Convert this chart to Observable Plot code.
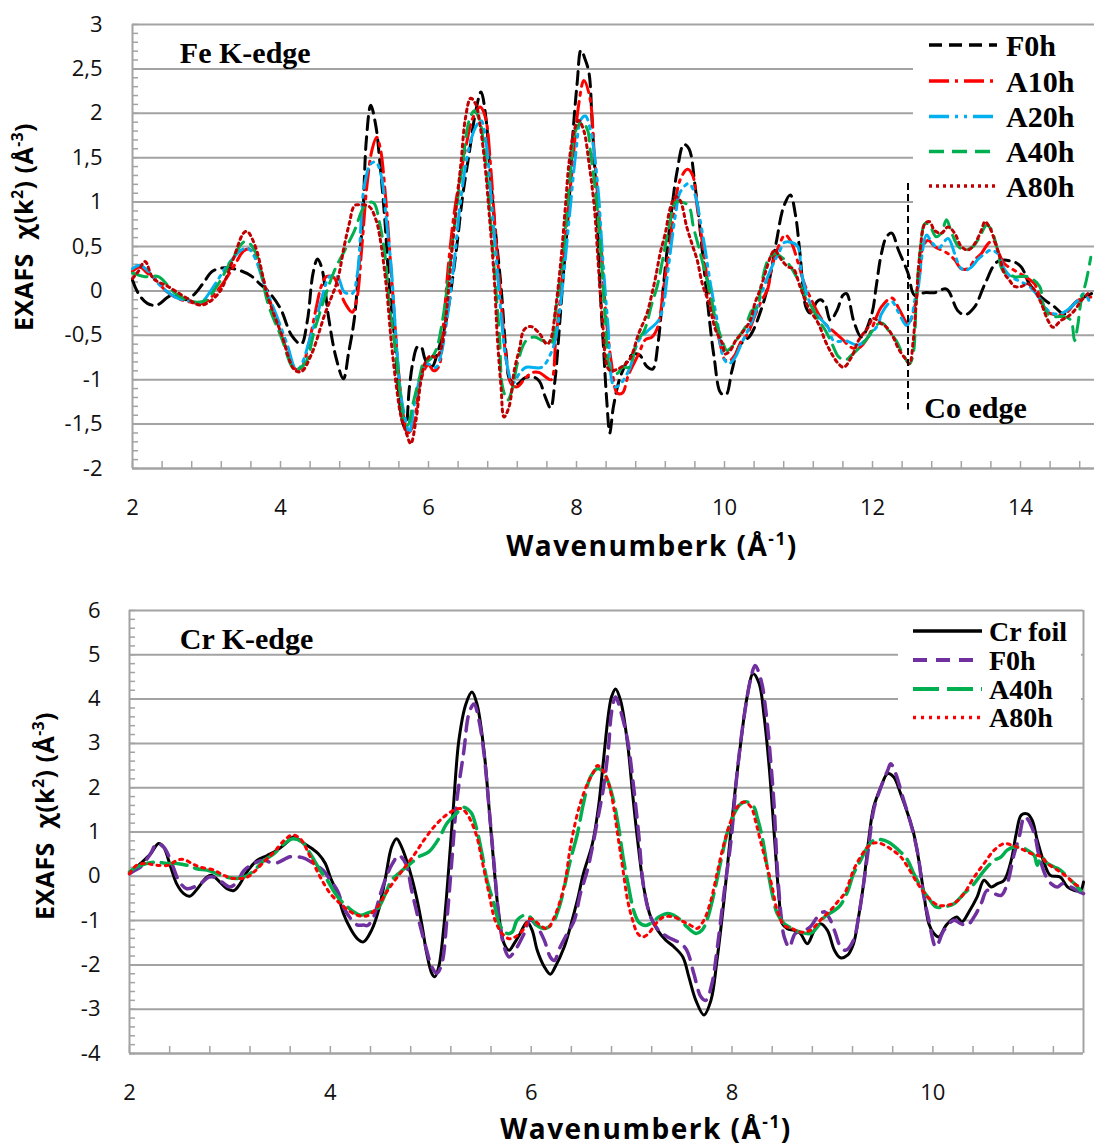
<!DOCTYPE html>
<html><head><meta charset="utf-8">
<script src="https://cdn.jsdelivr.net/npm/d3@7"></script>
<script src="https://cdn.jsdelivr.net/npm/@observablehq/plot@0.6"></script>
<style>
html,body{margin:0;padding:0;background:#fff;}
#wrap{position:relative;width:1094px;height:1146px;overflow:hidden;background:#fff;}
.panel{position:absolute;left:0;}
.title{position:absolute;font-family:"Open Sans",sans-serif;font-weight:700;color:#000;white-space:nowrap;line-height:1;}
.title sup{font-size:62%;vertical-align:0.62em;line-height:0;}
.legend{position:absolute;}
</style></head>
<body><div id="wrap"></div>
<script>
// ---------------- Fe K-edge data: [k, chi] ----------------
const fe_F0h = [[2.0,0.12],[2.08,-0.03],[2.2,-0.14],[2.33,-0.16],[2.5,-0.06],[2.62,-0.06],[2.72,-0.1],[2.82,-0.05],[2.95,0.08],[3.08,0.22],[3.25,0.26],[3.45,0.23],[3.6,0.17],[3.72,0.08],[3.85,-0.02],[4.0,-0.2],[4.15,-0.5],[4.28,-0.6],[4.36,-0.35],[4.44,0.2],[4.5,0.36],[4.56,0.25],[4.65,-0.3],[4.75,-0.75],[4.85,-0.99],[4.92,-0.7],[5.0,-0.3],[5.06,0.3],[5.11,0.8],[5.16,1.7],[5.22,2.09],[5.29,1.85],[5.34,1.47],[5.41,0.8],[5.47,0.05],[5.54,-0.52],[5.59,-1.08],[5.65,-1.48],[5.69,-1.55],[5.74,-1.1],[5.79,-0.8],[5.85,-0.63],[5.9,-0.63],[5.96,-0.78],[6.05,-0.85],[6.12,-0.7],[6.17,-0.56],[6.24,-0.33],[6.37,0.42],[6.46,1.06],[6.55,1.55],[6.64,2.03],[6.71,2.24],[6.78,1.92],[6.82,1.47],[6.89,0.8],[6.98,0.05],[7.05,-0.71],[7.1,-1.0],[7.2,-1.05],[7.3,-0.98],[7.42,-0.97],[7.5,-1.02],[7.58,-1.2],[7.65,-1.32],[7.71,-1.0],[7.77,-0.4],[7.81,0.05],[7.9,1.0],[7.95,1.75],[8.01,2.35],[8.06,2.71],[8.12,2.6],[8.17,2.45],[8.21,1.92],[8.26,1.17],[8.3,0.42],[8.33,-0.14],[8.37,-0.71],[8.41,-1.25],[8.45,-1.6],[8.5,-1.3],[8.6,-0.95],[8.75,-0.72],[8.85,-0.72],[8.95,-0.85],[9.03,-0.88],[9.1,-0.6],[9.18,0.1],[9.27,0.8],[9.36,1.35],[9.45,1.65],[9.52,1.6],[9.6,1.2],[9.7,0.45],[9.78,-0.2],[9.86,-0.75],[9.95,-1.15],[10.02,-1.17],[10.1,-0.9],[10.2,-0.62],[10.35,-0.5],[10.5,-0.2],[10.6,0.1],[10.7,0.55],[10.8,0.95],[10.89,1.08],[10.96,0.85],[11.02,0.42],[11.1,-0.18],[11.16,-0.25],[11.25,-0.12],[11.3,-0.1],[11.36,-0.15],[11.43,-0.33],[11.52,-0.22],[11.6,-0.05],[11.65,-0.03],[11.75,-0.35],[11.85,-0.52],[11.99,-0.26],[12.05,0.05],[12.12,0.42],[12.19,0.61],[12.26,0.65],[12.35,0.46],[12.48,0.2],[12.57,-0.05],[12.7,-0.02],[12.84,-0.02],[13.0,0.02],[13.15,-0.22],[13.25,-0.27],[13.38,-0.18],[13.52,0.08],[13.69,0.33],[13.9,0.33],[14.01,0.27],[14.12,0.08],[14.28,-0.07],[14.46,-0.18],[14.59,-0.26],[14.73,-0.14],[14.86,-0.07],[14.96,-0.03]];
const fe_A10h = [[2.0,0.22],[2.1,0.27],[2.2,0.2],[2.3,0.14],[2.45,0.0],[2.6,-0.08],[2.8,-0.13],[2.95,-0.14],[3.1,-0.04],[3.25,0.12],[3.4,0.32],[3.5,0.45],[3.58,0.47],[3.68,0.35],[3.8,0.04],[3.95,-0.35],[4.1,-0.7],[4.2,-0.88],[4.28,-0.87],[4.38,-0.6],[4.48,-0.2],[4.55,0.05],[4.62,0.16],[4.72,0.15],[4.8,0.0],[4.88,-0.15],[4.97,-0.24],[5.03,-0.1],[5.1,0.5],[5.17,1.2],[5.24,1.6],[5.3,1.73],[5.35,1.6],[5.42,1.06],[5.48,0.4],[5.54,-0.3],[5.6,-0.95],[5.67,-1.45],[5.72,-1.6],[5.8,-1.5],[5.87,-1.1],[5.95,-0.88],[6.0,-0.83],[6.07,-0.9],[6.14,-0.85],[6.2,-0.4],[6.27,0.3],[6.36,0.95],[6.5,1.6],[6.6,1.95],[6.7,2.07],[6.77,1.95],[6.84,1.4],[6.9,0.7],[6.98,-0.1],[7.04,-0.7],[7.12,-1.05],[7.2,-1.08],[7.3,-0.99],[7.4,-0.92],[7.5,-0.92],[7.6,-0.98],[7.66,-1.0],[7.72,-0.55],[7.79,0.0],[7.85,0.6],[7.94,1.36],[8.03,2.1],[8.1,2.37],[8.18,2.18],[8.24,1.55],[8.3,0.9],[8.35,0.3],[8.4,-0.3],[8.47,-0.8],[8.55,-1.15],[8.62,-1.15],[8.7,-0.95],[8.84,-0.71],[8.93,-0.55],[9.02,-0.52],[9.1,-0.4],[9.18,0.05],[9.25,0.45],[9.32,0.9],[9.4,1.25],[9.5,1.37],[9.57,1.3],[9.63,0.95],[9.7,0.55],[9.8,-0.05],[9.88,-0.35],[9.95,-0.63],[10.01,-0.78],[10.08,-0.78],[10.15,-0.71],[10.23,-0.56],[10.3,-0.5],[10.42,-0.26],[10.5,-0.11],[10.58,0.01],[10.64,0.27],[10.73,0.5],[10.82,0.63],[10.9,0.55],[11.0,0.3],[11.08,0.08],[11.18,-0.11],[11.27,-0.26],[11.36,-0.37],[11.45,-0.44],[11.6,-0.55],[11.7,-0.63],[11.8,-0.65],[11.94,-0.52],[12.05,-0.3],[12.12,-0.18],[12.26,-0.08],[12.37,-0.22],[12.48,-0.37],[12.57,-0.18],[12.64,0.2],[12.68,0.49],[12.75,0.57],[12.84,0.5],[13.02,0.42],[13.11,0.35],[13.2,0.25],[13.29,0.25],[13.38,0.35],[13.47,0.42],[13.56,0.53],[13.63,0.57],[13.69,0.46],[13.78,0.31],[13.92,0.23],[14.1,0.14],[14.19,0.08],[14.28,-0.11],[14.37,-0.24],[14.59,-0.26],[14.77,-0.11],[14.95,-0.07]];
const fe_A20h = [[2.0,0.25],[2.1,0.29],[2.24,0.2],[2.35,0.08],[2.58,-0.07],[2.8,-0.12],[2.91,-0.14],[3.12,0.08],[3.25,0.25],[3.47,0.46],[3.56,0.48],[3.65,0.38],[3.79,0.05],[3.97,-0.33],[4.1,-0.63],[4.19,-0.86],[4.24,-0.88],[4.3,-0.8],[4.39,-0.56],[4.5,-0.26],[4.59,0.01],[4.66,0.16],[4.77,0.16],[4.86,-0.01],[4.97,-0.03],[5.04,0.2],[5.13,1.17],[5.22,1.43],[5.29,1.45],[5.36,1.3],[5.43,0.8],[5.5,0.23],[5.56,-0.52],[5.63,-1.19],[5.7,-1.49],[5.74,-1.6],[5.81,-1.27],[5.88,-1.0],[5.97,-0.82],[6.1,-0.86],[6.17,-0.71],[6.26,-0.26],[6.35,0.35],[6.44,1.06],[6.55,1.62],[6.64,1.85],[6.71,1.92],[6.78,1.66],[6.84,1.1],[6.91,0.42],[6.98,-0.26],[7.05,-0.78],[7.14,-1.04],[7.23,-0.93],[7.32,-0.86],[7.53,-0.86],[7.65,-0.71],[7.72,-0.52],[7.81,0.05],[7.9,0.8],[7.99,1.55],[8.06,1.93],[8.12,1.97],[8.19,1.81],[8.24,1.55],[8.3,1.06],[8.35,0.42],[8.42,-0.33],[8.51,-1.08],[8.58,-1.06],[8.71,-0.89],[8.84,-0.56],[8.95,-0.46],[9.11,-0.33],[9.18,-0.14],[9.22,0.12],[9.34,0.87],[9.4,1.11],[9.52,1.21],[9.61,1.06],[9.67,0.8],[9.74,0.46],[9.81,0.08],[9.9,-0.33],[9.99,-0.76],[10.06,-0.82],[10.15,-0.74],[10.23,-0.59],[10.32,-0.44],[10.41,-0.26],[10.5,-0.03],[10.64,0.27],[10.73,0.42],[10.82,0.55],[10.98,0.51],[11.04,0.2],[11.11,-0.03],[11.18,-0.18],[11.27,-0.29],[11.4,-0.41],[11.47,-0.56],[11.54,-0.57],[11.63,-0.56],[11.81,-0.61],[11.94,-0.52],[12.08,-0.37],[12.12,-0.26],[12.26,-0.12],[12.35,-0.24],[12.46,-0.39],[12.53,-0.29],[12.57,-0.11],[12.62,0.05],[12.66,0.35],[12.73,0.63],[12.8,0.55],[12.89,0.48],[13.02,0.59],[13.11,0.42],[13.18,0.27],[13.25,0.23],[13.34,0.27],[13.43,0.36],[13.52,0.42],[13.6,0.46],[13.69,0.42],[13.78,0.25],[13.87,0.16],[13.96,0.12],[14.12,0.05],[14.28,-0.11],[14.37,-0.22],[14.46,-0.26],[14.59,-0.24],[14.77,-0.11],[14.86,-0.03],[14.95,-0.16]];
const fe_A40h = [[2.0,0.2],[2.17,0.16],[2.35,0.16],[2.58,-0.03],[2.8,-0.12],[2.98,-0.11],[3.16,0.08],[3.34,0.35],[3.5,0.55],[3.56,0.55],[3.67,0.42],[3.83,-0.14],[4.01,-0.52],[4.19,-0.88],[4.33,-0.82],[4.46,-0.44],[4.6,-0.07],[4.73,0.23],[4.87,0.46],[5.0,0.68],[5.13,0.95],[5.22,1.0],[5.27,0.98],[5.34,0.76],[5.41,0.42],[5.47,-0.14],[5.56,-0.71],[5.63,-1.27],[5.67,-1.48],[5.72,-1.51],[5.79,-1.27],[5.88,-0.97],[5.94,-0.8],[6.01,-0.78],[6.1,-0.67],[6.19,-0.33],[6.28,0.23],[6.37,0.87],[6.46,1.43],[6.55,1.92],[6.62,2.03],[6.69,1.92],[6.75,1.62],[6.82,0.98],[6.89,0.23],[6.96,-0.52],[7.0,-1.08],[7.07,-1.23],[7.14,-1.08],[7.2,-0.82],[7.32,-0.56],[7.43,-0.52],[7.54,-0.56],[7.65,-0.6],[7.72,-0.22],[7.81,0.35],[7.9,1.17],[7.99,1.81],[8.08,1.9],[8.15,1.81],[8.19,1.55],[8.26,1.1],[8.33,0.42],[8.39,-0.33],[8.46,-0.89],[8.55,-0.93],[8.62,-0.86],[8.71,-0.86],[8.82,-0.56],[8.91,-0.46],[9.02,-0.14],[9.09,0.05],[9.18,0.42],[9.25,0.72],[9.34,1.0],[9.43,1.0],[9.52,0.95],[9.58,0.72],[9.65,0.5],[9.74,0.2],[9.81,-0.03],[9.88,-0.33],[9.97,-0.56],[10.03,-0.67],[10.1,-0.63],[10.19,-0.52],[10.28,-0.41],[10.37,-0.22],[10.44,-0.18],[10.5,0.08],[10.59,0.35],[10.68,0.42],[10.77,0.38],[10.86,0.31],[11.02,0.08],[11.09,-0.07],[11.18,-0.18],[11.27,-0.33],[11.36,-0.44],[11.45,-0.59],[11.54,-0.74],[11.63,-0.78],[11.72,-0.72],[11.81,-0.65],[11.94,-0.52],[12.08,-0.37],[12.15,-0.37],[12.21,-0.44],[12.32,-0.56],[12.41,-0.71],[12.5,-0.82],[12.55,-0.71],[12.59,-0.14],[12.64,0.42],[12.71,0.76],[12.77,0.74],[12.86,0.61],[12.93,0.65],[13.0,0.8],[13.07,0.65],[13.16,0.5],[13.25,0.46],[13.36,0.5],[13.45,0.61],[13.54,0.74],[13.6,0.7],[13.69,0.46],[13.76,0.23],[13.92,0.16],[14.1,0.16],[14.26,0.05],[14.3,-0.14],[14.37,-0.26],[14.46,-0.29],[14.59,-0.29],[14.68,-0.33],[14.73,-0.56],[14.77,-0.41],[14.82,-0.11],[14.89,0.12],[14.95,0.38]];
const fe_A80h = [[2.0,0.14],[2.07,0.21],[2.17,0.33],[2.28,0.14],[2.48,0.05],[2.71,-0.07],[2.93,-0.16],[3.16,-0.03],[3.34,0.31],[3.5,0.65],[3.55,0.67],[3.66,0.5],[3.83,-0.07],[4.01,-0.48],[4.19,-0.89],[4.28,-0.91],[4.42,-0.71],[4.6,-0.26],[4.77,0.12],[4.86,0.5],[4.93,0.76],[5.0,0.96],[5.08,0.97],[5.2,0.95],[5.29,0.8],[5.34,0.62],[5.43,0.05],[5.5,-0.6],[5.57,-1.1],[5.63,-1.42],[5.7,-1.6],[5.76,-1.72],[5.83,-1.46],[5.9,-1.0],[5.96,-0.8],[6.03,-0.73],[6.1,-0.75],[6.17,-0.65],[6.24,-0.26],[6.3,0.3],[6.37,0.9],[6.44,1.45],[6.5,1.95],[6.57,2.17],[6.64,2.1],[6.7,1.85],[6.77,1.36],[6.82,0.87],[6.89,0.12],[6.93,-0.52],[6.98,-1.08],[7.02,-1.42],[7.09,-1.3],[7.16,-0.89],[7.23,-0.65],[7.29,-0.44],[7.38,-0.4],[7.5,-0.48],[7.6,-0.6],[7.65,-0.55],[7.72,-0.18],[7.79,0.35],[7.85,0.95],[7.9,1.45],[7.97,1.81],[8.03,1.92],[8.1,1.8],[8.17,1.43],[8.24,0.95],[8.3,0.23],[8.35,-0.33],[8.44,-0.89],[8.53,-0.89],[8.71,-0.78],[8.84,-0.48],[8.95,-0.26],[9.02,-0.03],[9.07,0.16],[9.13,0.42],[9.2,0.65],[9.27,0.94],[9.34,1.06],[9.4,1.02],[9.49,0.72],[9.56,0.53],[9.63,0.35],[9.7,0.08],[9.79,-0.14],[9.88,-0.44],[9.97,-0.59],[10.01,-0.71],[10.08,-0.67],[10.15,-0.56],[10.23,-0.48],[10.35,-0.33],[10.41,-0.14],[10.48,0.01],[10.55,0.2],[10.64,0.42],[10.68,0.46],[10.77,0.35],[10.86,0.27],[10.93,0.25],[11.02,0.05],[11.13,-0.18],[11.27,-0.37],[11.36,-0.56],[11.45,-0.71],[11.54,-0.82],[11.61,-0.86],[11.72,-0.74],[11.81,-0.56],[11.94,-0.41],[12.01,-0.31],[12.12,-0.37],[12.19,-0.41],[12.28,-0.52],[12.35,-0.65],[12.44,-0.76],[12.5,-0.82],[12.55,-0.56],[12.59,-0.14],[12.64,0.42],[12.71,0.76],[12.77,0.78],[12.84,0.68],[12.93,0.65],[13.02,0.72],[13.11,0.65],[13.2,0.5],[13.29,0.46],[13.38,0.53],[13.47,0.68],[13.52,0.78],[13.58,0.72],[13.65,0.57],[13.72,0.38],[13.78,0.2],[13.85,0.12],[13.92,0.05],[14.01,0.05],[14.1,0.08],[14.19,0.01],[14.28,-0.14],[14.37,-0.33],[14.44,-0.41],[14.55,-0.33],[14.64,-0.29],[14.73,-0.22],[14.82,-0.11],[14.91,-0.03]];

// ---------------- Cr K-edge data: [k, chi] ----------------
const cr_foil = [[2.0,0.06],[2.11,0.29],[2.21,0.51],[2.29,0.74],[2.34,0.66],[2.41,0.21],[2.47,-0.17],[2.54,-0.39],[2.6,-0.45],[2.69,-0.24],[2.77,-0.02],[2.82,0.02],[2.9,-0.13],[2.97,-0.28],[3.04,-0.32],[3.1,-0.17],[3.17,0.1],[3.27,0.36],[3.37,0.47],[3.47,0.59],[3.57,0.77],[3.63,0.89],[3.72,0.77],[3.82,0.62],[3.88,0.51],[3.95,0.29],[4.0,-0.02],[4.07,-0.39],[4.13,-0.84],[4.2,-1.18],[4.27,-1.41],[4.33,-1.48],[4.41,-1.22],[4.48,-0.77],[4.55,-0.02],[4.61,0.66],[4.66,0.85],[4.71,0.66],[4.78,0.21],[4.85,-0.39],[4.91,-1.07],[4.96,-1.74],[5.01,-2.19],[5.04,-2.27],[5.08,-2.04],[5.13,-1.14],[5.18,0.21],[5.23,1.71],[5.28,3.07],[5.35,3.89],[5.41,4.16],[5.46,3.89],[5.53,2.84],[5.58,1.56],[5.63,0.21],[5.68,-0.92],[5.73,-1.52],[5.78,-1.67],[5.83,-1.52],[5.89,-1.29],[5.96,-1.03],[6.01,-1.22],[6.06,-1.67],[6.13,-2.04],[6.19,-2.21],[6.24,-2.04],[6.33,-1.59],[6.39,-1.14],[6.46,-0.54],[6.52,0.06],[6.61,0.74],[6.67,1.56],[6.72,2.62],[6.77,3.67],[6.8,4.05],[6.84,4.23],[6.89,3.97],[6.96,2.99],[7.01,1.86],[7.06,0.81],[7.12,-0.24],[7.19,-0.92],[7.26,-1.22],[7.34,-1.44],[7.42,-1.59],[7.51,-1.82],[7.57,-2.27],[7.64,-2.8],[7.72,-3.13],[7.79,-2.8],[7.85,-1.9],[7.92,-0.54],[7.97,0.59],[8.02,1.71],[8.09,3.07],[8.15,4.05],[8.21,4.57],[8.27,4.35],[8.32,3.6],[8.37,2.47],[8.42,0.96],[8.47,-0.54],[8.5,-1.07],[8.55,-1.18],[8.62,-1.22],[8.68,-1.29],[8.75,-1.52],[8.82,-1.22],[8.88,-1.07],[8.95,-1.22],[9.02,-1.67],[9.08,-1.84],[9.15,-1.78],[9.21,-1.52],[9.26,-0.92],[9.31,-0.17],[9.36,0.81],[9.41,1.56],[9.48,2.0],[9.55,2.32],[9.61,2.24],[9.68,1.86],[9.75,1.41],[9.81,0.96],[9.86,0.36],[9.91,-0.39],[9.96,-1.07],[10.01,-1.29],[10.06,-1.37],[10.13,-1.11],[10.2,-0.96],[10.24,-0.92],[10.29,-1.03],[10.36,-0.8],[10.44,-0.47],[10.51,-0.09],[10.58,-0.24],[10.64,-0.17],[10.71,-0.09],[10.78,0.36],[10.83,0.96],[10.88,1.38],[10.94,1.41],[10.99,1.26],[11.04,0.81],[11.11,0.29],[11.17,0.02],[11.27,-0.02],[11.34,-0.24],[11.41,-0.32],[11.47,-0.32],[11.5,-0.13]];
const cr_F0h = [[2.0,0.06],[2.06,0.14],[2.11,0.21],[2.21,0.51],[2.27,0.74],[2.34,0.66],[2.41,0.36],[2.49,-0.09],[2.57,-0.28],[2.7,-0.17],[2.79,-0.02],[2.84,-0.02],[2.92,-0.13],[3.0,-0.24],[3.07,-0.13],[3.14,0.13],[3.24,0.29],[3.34,0.36],[3.44,0.29],[3.6,0.44],[3.67,0.44],[3.75,0.4],[3.83,0.29],[3.93,0.13],[4.0,-0.09],[4.07,-0.32],[4.13,-0.69],[4.2,-0.95],[4.27,-1.1],[4.33,-1.1],[4.37,-1.11],[4.43,-0.92],[4.5,-0.39],[4.57,0.06],[4.62,0.29],[4.68,0.47],[4.75,0.29],[4.81,-0.32],[4.88,-0.99],[4.95,-1.59],[5.01,-2.04],[5.06,-2.19],[5.11,-1.97],[5.16,-0.99],[5.21,0.36],[5.26,1.71],[5.33,2.84],[5.38,3.67],[5.43,3.89],[5.48,3.52],[5.53,2.77],[5.58,1.56],[5.63,0.29],[5.68,-0.92],[5.73,-1.59],[5.78,-1.82],[5.84,-1.67],[5.93,-1.29],[5.99,-0.99],[6.06,-1.14],[6.13,-1.44],[6.19,-1.82],[6.23,-1.9],[6.29,-1.59],[6.36,-1.29],[6.43,-0.99],[6.49,-0.39],[6.56,0.14],[6.61,0.66],[6.66,1.26],[6.72,2.0],[6.77,2.92],[6.8,3.7],[6.84,4.05],[6.89,3.74],[6.96,3.07],[7.02,2.02],[7.07,0.96],[7.12,-0.24],[7.19,-0.92],[7.27,-1.22],[7.36,-1.37],[7.49,-1.52],[7.55,-1.67],[7.62,-2.2],[7.69,-2.72],[7.74,-2.8],[7.8,-2.42],[7.85,-1.67],[7.92,-0.39],[7.99,0.81],[8.05,2.32],[8.12,3.6],[8.19,4.5],[8.23,4.76],[8.29,4.42],[8.34,3.67],[8.39,2.47],[8.42,1.56],[8.45,0.21],[8.49,-0.92],[8.52,-1.37],[8.57,-1.6],[8.63,-1.29],[8.72,-1.22],[8.78,-1.14],[8.85,-0.92],[8.92,-0.8],[8.98,-0.99],[9.03,-1.29],[9.08,-1.59],[9.13,-1.67],[9.21,-1.44],[9.26,-0.92],[9.31,-0.17],[9.36,0.66],[9.41,1.49],[9.48,2.0],[9.55,2.39],[9.58,2.54],[9.63,2.32],[9.7,1.79],[9.78,1.19],[9.85,0.51],[9.9,-0.32],[9.96,-0.99],[10.03,-1.59],[10.11,-1.22],[10.21,-0.99],[10.28,-1.07],[10.34,-1.11],[10.41,-0.92],[10.48,-0.62],[10.54,-0.32],[10.61,-0.39],[10.68,-0.43],[10.74,-0.17],[10.81,0.51],[10.86,0.89],[10.91,1.34],[10.94,1.3],[11.01,0.96],[11.06,0.44],[11.13,-0.02],[11.18,-0.17],[11.24,-0.24],[11.29,-0.17],[11.37,-0.24],[11.46,-0.35],[11.5,-0.39]];
const cr_A40h = [[2.0,0.1],[2.07,0.21],[2.17,0.29],[2.27,0.32],[2.37,0.29],[2.47,0.29],[2.57,0.25],[2.67,0.17],[2.77,0.14],[2.87,0.06],[2.97,-0.02],[3.07,-0.05],[3.14,-0.02],[3.24,0.13],[3.34,0.36],[3.44,0.51],[3.54,0.74],[3.63,0.85],[3.72,0.77],[3.8,0.51],[3.9,0.13],[3.97,-0.09],[4.03,-0.32],[4.1,-0.54],[4.17,-0.69],[4.23,-0.8],[4.3,-0.88],[4.38,-0.82],[4.47,-0.73],[4.55,-0.39],[4.61,-0.09],[4.7,0.1],[4.8,0.29],[4.88,0.44],[4.98,0.55],[5.08,0.85],[5.16,1.19],[5.25,1.41],[5.33,1.56],[5.38,1.49],[5.41,1.41],[5.46,1.04],[5.51,0.51],[5.56,-0.09],[5.63,-0.62],[5.69,-1.11],[5.76,-1.29],[5.81,-1.26],[5.86,-0.99],[5.93,-0.88],[5.99,-0.92],[6.06,-1.11],[6.14,-1.18],[6.21,-1.07],[6.28,-0.69],[6.33,-0.24],[6.39,0.36],[6.46,0.96],[6.52,1.64],[6.59,2.24],[6.66,2.43],[6.72,2.35],[6.76,2.17],[6.82,1.71],[6.87,1.11],[6.92,0.36],[6.97,-0.24],[7.02,-0.77],[7.07,-1.03],[7.14,-1.11],[7.21,-1.03],[7.27,-0.92],[7.36,-0.84],[7.42,-0.88],[7.49,-0.99],[7.55,-1.14],[7.64,-1.29],[7.7,-1.22],[7.75,-0.99],[7.82,-0.39],[7.89,0.36],[7.95,0.96],[8.02,1.41],[8.09,1.64],[8.15,1.68],[8.22,1.56],[8.25,1.34],[8.3,0.89],[8.35,0.21],[8.4,-0.39],[8.45,-0.84],[8.52,-1.07],[8.6,-1.18],[8.68,-1.26],[8.78,-1.29],[8.85,-1.14],[8.92,-0.92],[9.02,-0.77],[9.08,-0.65],[9.15,-0.35],[9.21,0.06],[9.28,0.36],[9.35,0.66],[9.41,0.81],[9.48,0.83],[9.56,0.77],[9.66,0.59],[9.75,0.36],[9.81,0.06],[9.88,-0.24],[9.96,-0.5],[10.03,-0.69],[10.11,-0.69],[10.21,-0.62],[10.31,-0.39],[10.41,-0.17],[10.51,0.13],[10.61,0.36],[10.68,0.44],[10.74,0.59],[10.81,0.66],[10.88,0.66],[10.94,0.59],[11.01,0.47],[11.04,0.25],[11.08,0.44],[11.14,0.29],[11.21,0.21],[11.27,0.14],[11.34,-0.02],[11.41,-0.17],[11.47,-0.32]];
const cr_A80h = [[2.0,0.06],[2.07,0.25],[2.16,0.29],[2.24,0.26],[2.39,0.25],[2.47,0.36],[2.54,0.38],[2.62,0.29],[2.7,0.21],[2.84,0.14],[2.94,0.02],[3.04,-0.05],[3.17,-0.02],[3.24,0.1],[3.34,0.33],[3.44,0.55],[3.54,0.81],[3.62,0.93],[3.7,0.85],[3.8,0.44],[3.9,-0.02],[4.0,-0.39],[4.1,-0.62],[4.2,-0.8],[4.27,-0.88],[4.33,-0.9],[4.38,-0.88],[4.47,-0.69],[4.55,-0.39],[4.63,-0.13],[4.73,0.17],[4.83,0.47],[4.93,0.81],[5.03,1.11],[5.13,1.34],[5.23,1.49],[5.3,1.53],[5.36,1.41],[5.45,0.96],[5.51,0.36],[5.58,-0.39],[5.64,-0.99],[5.71,-1.29],[5.78,-1.41],[5.84,-1.37],[5.93,-1.18],[5.98,-0.96],[6.03,-0.99],[6.09,-1.11],[6.16,-1.18],[6.23,-0.92],[6.29,-0.54],[6.34,-0.09],[6.39,0.66],[6.46,1.41],[6.51,1.79],[6.56,2.09],[6.63,2.39],[6.66,2.5],[6.71,2.4],[6.76,2.17],[6.81,1.71],[6.86,0.96],[6.91,0.21],[6.96,-0.54],[7.01,-0.99],[7.06,-1.29],[7.11,-1.37],[7.17,-1.29],[7.24,-1.07],[7.32,-0.92],[7.42,-0.92],[7.52,-1.03],[7.59,-1.11],[7.65,-1.18],[7.72,-0.99],[7.79,-0.54],[7.85,0.06],[7.92,0.74],[7.99,1.26],[8.05,1.56],[8.12,1.68],[8.19,1.56],[8.24,1.19],[8.29,0.74],[8.35,0.21],[8.4,-0.24],[8.45,-0.77],[8.52,-1.11],[8.6,-1.18],[8.68,-1.26],[8.78,-1.22],[8.88,-0.99],[8.98,-0.77],[9.05,-0.58],[9.12,-0.39],[9.15,-0.24],[9.21,0.14],[9.28,0.44],[9.35,0.66],[9.41,0.75],[9.48,0.74],[9.58,0.62],[9.68,0.44],[9.75,0.21],[9.85,-0.17],[9.95,-0.47],[10.05,-0.65],[10.15,-0.65],[10.23,-0.58],[10.31,-0.39],[10.41,-0.02],[10.51,0.29],[10.61,0.59],[10.71,0.74],[10.79,0.7],[10.88,0.62],[10.98,0.51],[11.08,0.44],[11.14,0.29],[11.24,0.14],[11.34,-0.02],[11.41,-0.17],[11.47,-0.24]];

// ---------------- series names, ticks, annotations ----------------
const feNames = ["F0h", "A10h", "A20h", "A40h", "A80h"];
const crNames = ["Cr foil", "F0h", "A40h", "A80h"];
const feXTicks = [2, 4, 6, 8, 10, 12, 14];
const feYTicks = [-2, -1.5, -1, -0.5, 0, 0.5, 1, 1.5, 2, 2.5, 3];
const crXTicks = [2, 4, 6, 8, 10];
const crYTicks = [-4, -3, -2, -1, 0, 1, 2, 3, 4, 5, 6];
const feLabels = [{k: 2.64, y: 2.68, text: "Fe K-edge"}, {k: 12.70, y: -1.32, text: "Co edge"}];
const crLabels = [{k: 2.50, y: 5.35, text: "Cr K-edge"}];
const coEdge = [{k: 12.48, y1: 1.21, y2: -1.34}];

// ---------------- styles ----------------
const feStyles = [
  {stroke: "#000000", dash: "13 7", width: 3},
  {stroke: "#ff0000", dash: "20 6 3 6", width: 3},
  {stroke: "#00b0f0", dash: "20 6 3 6 3 6", width: 3},
  {stroke: "#00b050", dash: "15 8", width: 3},
  {stroke: "#c00000", dash: "3 4", width: 3}
];
const crStyles = [
  {stroke: "#000000", dash: null, width: 3},
  {stroke: "#7030a0", dash: "14 9", width: 3.5},
  {stroke: "#00b050", dash: "26 8", width: 3.5},
  {stroke: "#ff0000", dash: "3 5", width: 3}
];
const gridColor = "#a3a3a3";
const commaFmt = d => String(d).replace(".", ",");
const feData = [fe_F0h, fe_A10h, fe_A20h, fe_A40h, fe_A80h];
const crData = [cr_foil, cr_F0h, cr_A40h, cr_A80h];

function lineMarks(datasets, styles) {
  return datasets.map((data, i) => Plot.line(data, {
    x: d => d[0], y: d => d[1], curve: "catmull-rom",
    stroke: styles[i].stroke, strokeWidth: styles[i].width,
    strokeDasharray: styles[i].dash
  }));
}

const wrap = document.getElementById("wrap");
const baseStyle = {fontFamily: "'Open Sans', sans-serif", fontSize: "22px", color: "#111", background: "white", overflow: "visible"};

// ---------- Top panel: Fe K-edge ----------
const feX0 = 2, feX1 = 15, feY0 = -2, feY1 = 3;
const feChart = Plot.plot({
  width: 1094, height: 570,
  marginLeft: 132, marginRight: 0, marginTop: 24, marginBottom: 102,
  style: baseStyle,
  x: {domain: [feX0, feX1]},
  y: {domain: [feY0, feY1]},
  marks: [
    Plot.gridY(feYTicks, {stroke: gridColor, strokeOpacity: 1, strokeWidth: 2}),
    Plot.ruleX([feX0], {stroke: gridColor, strokeWidth: 2}),
    Plot.ruleY([feY0], {stroke: gridColor, strokeWidth: 2}),
    Plot.axisY(d3.range(-20, 31).map(v => v / 10), {tickSize: -6, tickFormat: () => "", stroke: gridColor, strokeWidth: 1.5, label: null}),
    Plot.axisX(d3.range(0, 33).map(v => 2 + v * 0.4), {tickSize: -7, tickFormat: () => "", stroke: gridColor, strokeWidth: 1.5, label: null}),
    Plot.axisY(feYTicks, {tickSize: 0, tickPadding: 30, tickFormat: commaFmt, label: null}),
    Plot.axisX(feXTicks, {tickSize: 0, tickPadding: 31, tickFormat: d => String(d), label: null}),
    ...lineMarks(feData, feStyles),
    Plot.ruleX(coEdge, {x: "k", y1: "y1", y2: "y2", stroke: "#000", strokeWidth: 2, strokeDasharray: "7 4"}),
    Plot.text(feLabels, {x: "k", y: "y", text: "text", textAnchor: "start", fontFamily: "'Liberation Serif', 'Times New Roman', serif", fontWeight: "bold", fontSize: 30, fill: "#000"})
  ]
});
feChart.classList.add("panel");
feChart.style.top = "0px";
wrap.appendChild(feChart);

// ---------- Bottom panel: Cr K-edge ----------
const crX0 = 2, crX1 = 11.5, crY0 = -4, crY1 = 6;
const crChart = Plot.plot({
  width: 1094, height: 566,
  marginLeft: 129, marginRight: 11, marginTop: 30, marginBottom: 93,
  style: baseStyle,
  x: {domain: [crX0, crX1]},
  y: {domain: [crY0, crY1]},
  marks: [
    Plot.gridY(crYTicks, {stroke: gridColor, strokeOpacity: 1, strokeWidth: 2}),
    Plot.ruleX([crX0, crX1], {stroke: gridColor, strokeWidth: 2}),
    Plot.ruleY([crY0], {stroke: gridColor, strokeWidth: 2}),
    Plot.axisY(d3.range(-20, 31).map(v => v / 5), {tickSize: -6, tickFormat: () => "", stroke: gridColor, strokeWidth: 1.5, label: null}),
    Plot.axisX(d3.range(0, 24).map(v => 2 + v * 0.4), {tickSize: -7, tickFormat: () => "", stroke: gridColor, strokeWidth: 1.5, label: null}),
    Plot.axisY(crYTicks, {tickSize: 0, tickPadding: 29, tickFormat: d => String(d), label: null}),
    Plot.axisX(crXTicks, {tickSize: 0, tickPadding: 31, tickFormat: d => String(d), label: null}),
    ...lineMarks(crData, crStyles),
    Plot.text(crLabels, {x: "k", y: "y", text: "text", textAnchor: "start", fontFamily: "'Liberation Serif', 'Times New Roman', serif", fontWeight: "bold", fontSize: 30, fill: "#000"})
  ]
});
crChart.classList.add("panel");
crChart.style.top = "580px";
wrap.appendChild(crChart);

// ---------- axis titles ----------
function addTitle(html, cx, cy, size, rotate, spacing) {
  const d = document.createElement("div");
  d.className = "title";
  d.innerHTML = html;
  d.style.fontSize = size + "px";
  d.style.letterSpacing = spacing + "px";
  d.style.left = cx + "px";
  d.style.top = cy + "px";
  d.style.transform = "translate(-50%,-50%)" + (rotate ? " rotate(-90deg)" : "");
  wrap.appendChild(d);
}
const yTitle = "EXAFS&nbsp; χ(k<sup>2</sup>) (Å<sup>-3</sup>)";
const xTitle = "Wavenumberk (Å<sup>-1</sup>)";
addTitle(yTitle, 23, 227, 25, true, 0.5);
addTitle(yTitle, 44, 816, 25, true, 0.5);
addTitle(xTitle, 652, 545, 28, false, 1.5);
addTitle(xTitle, 646, 1128, 28, false, 1.5);

// ---------- legends ----------
function addLegend(names, styles, box, rowY, x1, x2, tx, fontSize) {
  const ns = "http://www.w3.org/2000/svg";
  const svg = document.createElementNS(ns, "svg");
  svg.setAttribute("class", "legend");
  svg.setAttribute("width", box.w);
  svg.setAttribute("height", box.h);
  svg.style.left = box.x + "px";
  svg.style.top = box.y + "px";
  const bg = document.createElementNS(ns, "rect");
  bg.setAttribute("width", box.w); bg.setAttribute("height", box.h); bg.setAttribute("fill", "#fff");
  svg.appendChild(bg);
  names.forEach((n, i) => {
    const y = rowY[i] - box.y;
    const ln = document.createElementNS(ns, "line");
    ln.setAttribute("x1", x1 - box.x); ln.setAttribute("x2", x2 - box.x);
    ln.setAttribute("y1", y); ln.setAttribute("y2", y);
    ln.setAttribute("stroke", styles[i].stroke);
    ln.setAttribute("stroke-width", styles[i].width + 0.5);
    if (styles[i].dash) ln.setAttribute("stroke-dasharray", styles[i].dash);
    svg.appendChild(ln);
    const t = document.createElementNS(ns, "text");
    t.setAttribute("x", tx - box.x); t.setAttribute("y", y);
    t.setAttribute("dy", "0.35em");
    t.setAttribute("font-family", "'Liberation Serif', 'Times New Roman', serif");
    t.setAttribute("font-weight", "bold");
    t.setAttribute("font-size", fontSize);
    t.textContent = n;
    svg.appendChild(t);
  });
  wrap.appendChild(svg);
}
addLegend(feNames, feStyles, {x: 913, y: 26, w: 181, h: 180}, [45, 81, 116.5, 151.5, 186], 929, 997, 1006, 30);
addLegend(crNames, crStyles, {x: 898, y: 612, w: 183, h: 126}, [631, 660, 689, 717.5], 913, 982, 989, 28);
</script>
</body></html>
